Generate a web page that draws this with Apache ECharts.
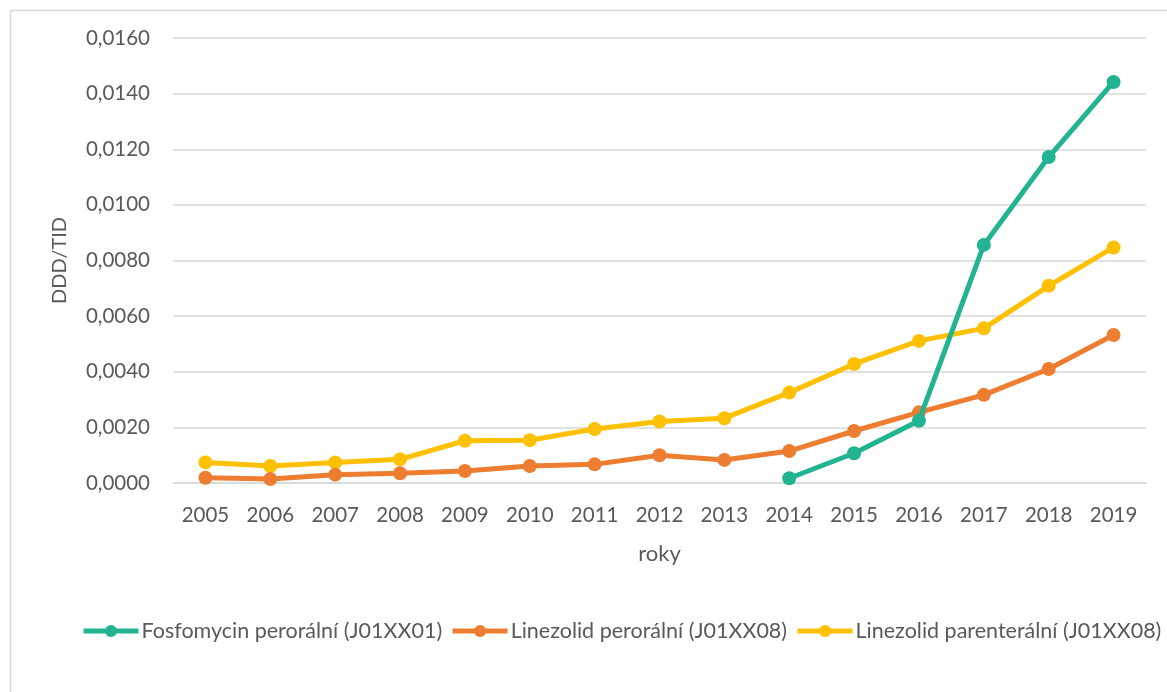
<!DOCTYPE html>
<html>
<head>
<meta charset="utf-8">
<script src="https://cdn.jsdelivr.net/npm/echarts@6/dist/echarts.min.js"></script>
<style>
  html, body { margin: 0; padding: 0; background: #fff; }
  #chart { width: 1167px; height: 692px; }
</style>
</head>
<body>
<div id="chart"></div>
<script>
// Years on the category axis
var years = ['2005', '2006', '2007', '2008', '2009', '2010', '2011', '2012',
             '2013', '2014', '2015', '2016', '2017', '2018', '2019'];

// DDD/TID consumption per year
var fosfomycinOral = [null, null, null, null, null, null, null, null,
                      null, 0.00017, 0.00107, 0.00224, 0.00856, 0.01172, 0.01442];
var linezolidOral = [0.00019, 0.00014, 0.00030, 0.00035, 0.00043, 0.00061, 0.00067, 0.00100,
                     0.00083, 0.00115, 0.00187, 0.00254, 0.00317, 0.00410, 0.00532];
var linezolidParenteral = [0.00074, 0.00061, 0.00074, 0.00085, 0.00152, 0.00154, 0.00194, 0.00221,
                           0.00233, 0.00325, 0.00428, 0.00511, 0.00556, 0.00709, 0.00847];

var seriesNames = ['Fosfomycin perorální (J01XX01)',
                   'Linezolid perorální (J01XX08)',
                   'Linezolid parenterální (J01XX08)'];
var seriesColors = ['#22B392', '#ED7D31', '#FFC000'];
var seriesData = [fosfomycinOral, linezolidOral, linezolidParenteral];

var FONT = 'Lato, "Open Sans", sans-serif';
var TEXT = '#595959';

var chart = echarts.init(document.getElementById('chart'), null, { renderer: 'canvas' });

chart.setOption({
  animation: false,
  backgroundColor: '#ffffff',
  textStyle: { fontFamily: FONT },
  graphic: [{
    type: 'rect',
    left: 8, top: 8,
    shape: { x: 0, y: 0, width: 1200, height: 700 },
    style: { fill: 'none', stroke: '#D9D9D9', lineWidth: 1.5 },
    silent: true, z: -10
  }],
  grid: { left: 173, right: 21, top: 38, bottom: 209 },
  legend: {
    left: 76,
    top: 615,
    itemWidth: 55,
    itemHeight: 15,
    itemGap: 8,
    lineStyle: { width: 5 },
    textStyle: { fontFamily: FONT, fontSize: 21.5, color: TEXT, padding: [0, 0, 0, -2] },
    data: seriesNames
  },
  xAxis: {
    type: 'category',
    data: years,
    boundaryGap: true,
    name: 'roky',
    nameLocation: 'middle',
    nameGap: 60,
    nameTextStyle: { fontFamily: FONT, fontSize: 22, color: TEXT },
    axisLine: { show: true, lineStyle: { color: '#D9D9D9', width: 1.5 } },
    axisTick: { show: false },
    axisLabel: { fontFamily: FONT, fontSize: 20.5, color: TEXT, margin: 22 }
  },
  yAxis: {
    type: 'value',
    min: 0,
    max: 0.016,
    interval: 0.002,
    name: 'DDD/TID',
    nameLocation: 'middle',
    nameGap: 103,
    nameRotate: 90,
    nameTextStyle: { fontFamily: FONT, fontSize: 20, color: TEXT },
    axisLine: { show: false },
    axisTick: { show: false },
    splitLine: { lineStyle: { color: '#D9D9D9', width: 1.5 } },
    axisLabel: {
      fontFamily: FONT, fontSize: 20.5, color: TEXT, margin: 23,
      formatter: function (v) { return v.toFixed(4).replace('.', ','); }
    }
  },
  series: seriesData.map(function (d, i) {
    return {
      name: seriesNames[i],
      type: 'line',
      data: d,
      color: seriesColors[i],
      symbol: 'circle',
      symbolSize: 14,
      showSymbol: true,
      connectNulls: false,
      lineStyle: { width: 5, color: seriesColors[i] },
      itemStyle: { color: seriesColors[i] },
      z: 3 - i
    };
  })
});
</script>
</body>
</html>
